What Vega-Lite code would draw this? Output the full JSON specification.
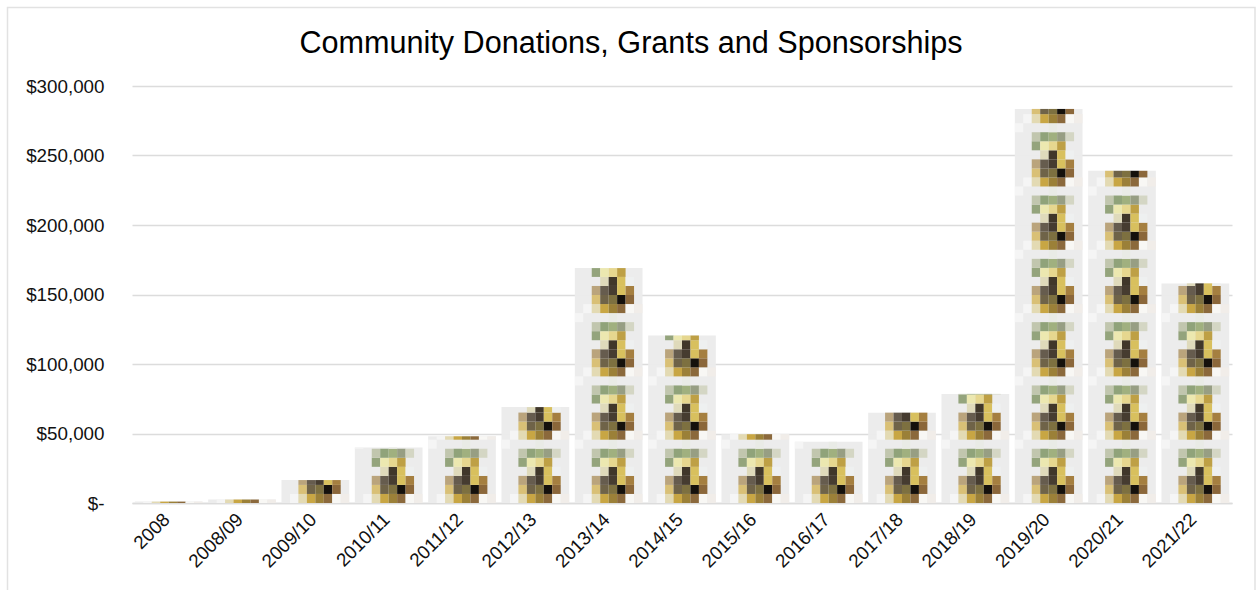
{
  "$schema": "https://vega.github.io/schema/vega-lite/v6.json",
  "width": 1100,
  "height": 417,
  "autosize": "none",
  "padding": {"left": 132, "top": 86, "right": 24, "bottom": 87},
  "background": "white",
  "title": {
    "text": "Community Donations, Grants and Sponsorships",
    "font": "Liberation Sans",
    "fontSize": 30.6,
    "fontWeight": "normal",
    "color": "#000000",
    "anchor": "middle",
    "dx": -51,
    "offset": -53
  },
  "config": {"view": {"stroke": null}},
  "datasets": {
    "pattern": [
      {
        "name": "coin",
        "row": [0,0,0,0,0,0,0, 1,1,1,1,1, 2,2,2,2,2, 3,3,3,3, 4,4,4,4, 5,5,5,5,5, 6,6],
        "col": [1,2,3,4,5,6,7, 2,3,4,5,6, 2,3,4,5,6, 3,4,5,6, 2,3,4,5, 2,3,4,5,6, 0,4],
        "tone": [
          "mist","cream","gold","bronze","umber","ivory","shell",
          "straw","olive","moss","ink","walnut",
          "tan","slate","soot","mustard","ochre",
          "bone","char","mustard","frost",
          "sage","lemon","butter","amber",
          "lichen","fern","leaf","reed","ash",
          "mist","dew"
        ]
      }
    ]
  },
  "data": {
    "values": [
      {"period": "2008", "amount": 1000, "tiles": [0]},
      {"period": "2008/09", "amount": 2500, "tiles": [0]},
      {"period": "2009/10", "amount": 16500, "tiles": [0]},
      {"period": "2010/11", "amount": 40000, "tiles": [0]},
      {"period": "2011/12", "amount": 48000, "tiles": [0,1]},
      {"period": "2012/13", "amount": 69000, "tiles": [0,1]},
      {"period": "2013/14", "amount": 169000, "tiles": [0,1,2,3]},
      {"period": "2014/15", "amount": 120500, "tiles": [0,1,2]},
      {"period": "2015/16", "amount": 49500, "tiles": [0,1]},
      {"period": "2016/17", "amount": 44000, "tiles": [0]},
      {"period": "2017/18", "amount": 65000, "tiles": [0,1]},
      {"period": "2018/19", "amount": 78500, "tiles": [0,1]},
      {"period": "2019/20", "amount": 283500, "tiles": [0,1,2,3,4,5,6]},
      {"period": "2020/21", "amount": 239000, "tiles": [0,1,2,3,4,5]},
      {"period": "2021/22", "amount": 158000, "tiles": [0,1,2,3]}
    ]
  },
  "encoding": {
    "x": {
      "field": "period",
      "type": "nominal",
      "sort": null,
      "scale": {"paddingInner": 0.077, "paddingOuter": 0.0385},
      "axis": {
        "title": null,
        "labelAngle": -45,
        "labelAlign": "right",
        "labelBaseline": "middle",
        "labelFont": "Liberation Sans",
        "labelFontSize": 18.8,
        "labelColor": "#111111",
        "labelPadding": 13,
        "labelOffset": -2,
        "ticks": false,
        "domainColor": "#dcdcdc",
        "domainWidth": 1.6,
        "grid": false
      }
    }
  },
  "layer": [
    {
      "data": {"values": [{"frame": "outer"}]},
      "mark": {"type": "rect", "fill": "transparent", "stroke": "#e2e2e2", "strokeWidth": 1.5},
      "encoding": {
        "x": {"value": -124.5},
        "x2": {"value": 1123},
        "y": {"value": -78.5},
        "y2": {"value": 540}
      }
    },
    {
      "mark": {"type": "bar", "fill": "#ebebeb", "opacity": 0.96},
      "encoding": {
        "y": {
          "field": "amount",
          "type": "quantitative",
          "scale": {"domain": [0, 300000], "nice": false},
          "axis": {
            "title": null,
            "values": [0, 50000, 100000, 150000, 200000, 250000, 300000],
            "labelExpr": "datum.value === 0 ? '$-\u00a0\u00a0' : format(datum.value, '$,.0f')",
            "labelFont": "Liberation Sans",
            "labelFontSize": 18.8,
            "labelColor": "#111111",
            "labelPadding": 28,
            "ticks": false,
            "domain": false,
            "gridColor": "#dcdcdc",
            "gridWidth": 1.4
          }
        }
      }
    },
    {
      "transform": [
        {"calculate": "'coin'", "as": "fillName"},
        {"flatten": ["tiles"]},
        {"lookup": "fillName", "from": {"data": {"name": "pattern"}, "key": "name", "fields": ["row", "col", "tone"]}},
        {"flatten": ["row", "col", "tone"]},
        {"calculate": "(datum.tiles * 7 + datum.row) * 6506", "as": "cellLow"},
        {"filter": "datum.cellLow < datum.amount"},
        {"calculate": "min(datum.cellLow + 6506, datum.amount)", "as": "cellHigh"}
      ],
      "mark": {"type": "bar"},
      "encoding": {
        "xOffset": {"field": "col", "type": "ordinal", "scale": {"domain": [0,1,2,3,4,5,6,7], "paddingInner": 0, "paddingOuter": 0}},
        "y": {"field": "cellLow", "type": "quantitative"},
        "y2": {"field": "cellHigh"},
        "color": {
          "field": "tone",
          "type": "nominal",
          "legend": null,
          "scale": {
            "domain": ["mist","cream","gold","bronze","umber","ivory","shell","straw","olive","moss","ink","walnut","tan","slate","soot","mustard","ochre","bone","char","frost","sage","lemon","butter","amber","lichen","fern","leaf","reed","ash","dew"],
            "range": ["#f5f5f5","#e3dab3","#c8a644","#9b8038","#8b693c","#f8f7f4","#f1ede9","#d9c076","#6f6348","#7d7040","#15110c","#8b673a","#baa47c","#665c4e","#463c30","#d8c05e","#a57f40","#dfdabb","#40372a","#eef0f0","#94a47c","#ece8b0","#e6d78f","#bea045","#c1c6ae","#90a37a","#a0b07f","#979e83","#d4d6c4","#e9ebe6"]
          }
        }
      }
    }
  ]
}
